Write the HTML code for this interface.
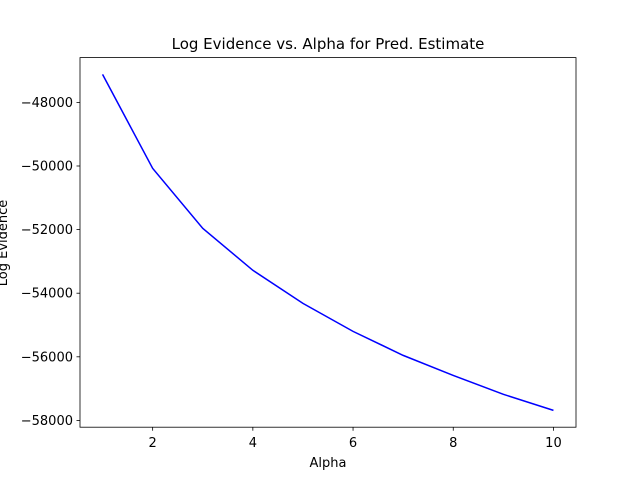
<!DOCTYPE html>
<html><head><meta charset="utf-8"><style>
body{margin:0;background:#fff;}
svg text{font-family:"DejaVu Sans","Liberation Sans",sans-serif;fill:#000;}
</style></head><body>
<svg id="chart" width="640" height="480" xmlns="http://www.w3.org/2000/svg">
<rect width="640" height="480" fill="#fff"/>
<text x="328" y="49" font-size="15" text-anchor="middle">Log Evidence vs. Alpha for Pred. Estimate</text>
<text x="328" y="467" font-size="13" text-anchor="middle">Alpha</text>
<text transform="translate(7,243) rotate(-90)" font-size="13" text-anchor="middle">Log Evidence</text>
<g id="ticks"></g>
<polyline id="line" fill="none" stroke="#0000ff" stroke-width="1.5"/>
<rect x="80" y="57.6" width="496" height="369.6" fill="none" stroke="#000" stroke-width="0.8"/>
</svg>
<script>
const alphas=[1,2,3,4,5,6,7,8,9,10];
const evidence=[-47120,-50075,-51960,-53280,-54320,-55200,-55955,-56585,-57180,-57685];
const xTicks=[2,4,6,8,10];
const yTicks=[-48000,-50000,-52000,-54000,-56000,-58000];
const L=80,R=576,T=57.6,B=427.2;
const xmin=Math.min(...alphas),xmax=Math.max(...alphas),xm=(xmax-xmin)*0.05;
const ymin=Math.min(...evidence),ymax=Math.max(...evidence),ym=(ymax-ymin)*0.05;
const sx=v=>L+(v-(xmin-xm))/((xmax+xm)-(xmin-xm))*(R-L);
const sy=v=>B-(v-(ymin-ym))/((ymax+ym)-(ymin-ym))*(B-T);
const NS="http://www.w3.org/2000/svg";
const g=document.getElementById('ticks');
function mk(tag,attrs){const e=document.createElementNS(NS,tag);for(const k in attrs)e.setAttribute(k,attrs[k]);return e;}
xTicks.forEach(t=>{
  const x=sx(t);
  const l=mk('line',{x1:x,x2:x,y1:B,y2:B+3.5,stroke:'#000','stroke-width':0.8});
  
  
  g.appendChild(l);
  const tx=mk('text',{x:x,y:B+20,'font-size':13,'text-anchor':'middle'});
  tx.textContent=t;
  
  
  g.appendChild(tx);
});
yTicks.forEach(t=>{
  const y=sy(t);
  const l=mk('line',{x1:L-3.5,x2:L,y1:y,y2:y,stroke:'#000','stroke-width':0.8});
  
  
  g.appendChild(l);
  const tx=mk('text',{x:L-7,y:y+4.5,'font-size':13,'text-anchor':'end'});
  tx.textContent='\u2212'+Math.abs(t);
  
  
  g.appendChild(tx);
});
document.getElementById('line').setAttribute('points',alphas.map((a,i)=>sx(a)+','+sy(evidence[i])).join(' '));
</script>
</body></html>
